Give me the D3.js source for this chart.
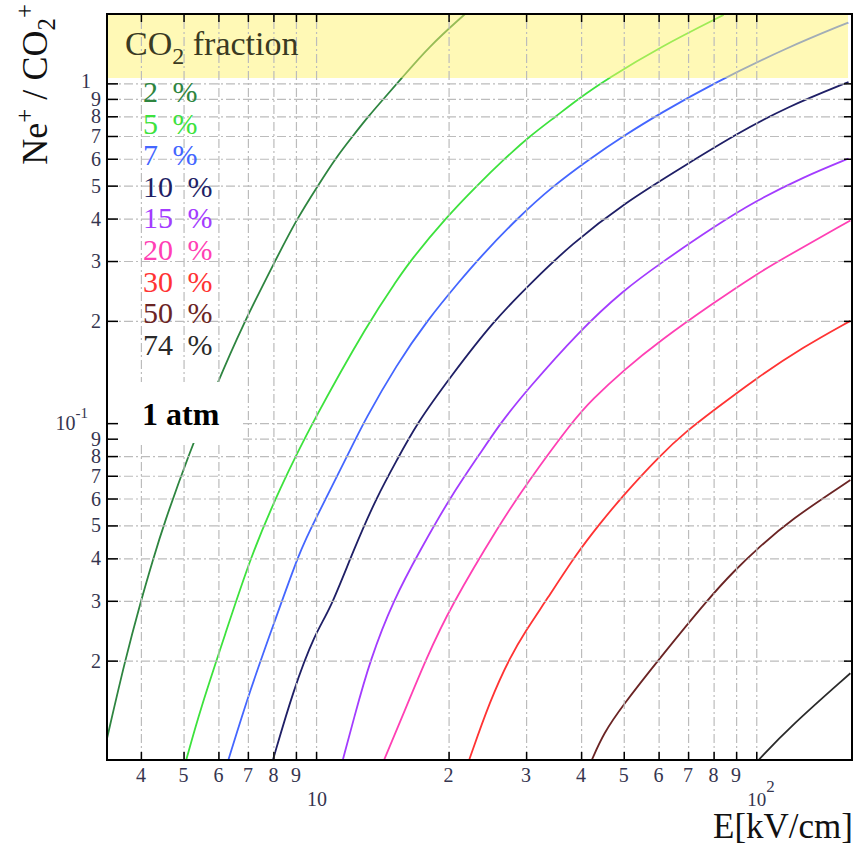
<!DOCTYPE html>
<html><head><meta charset="utf-8">
<script src="https://cdn.jsdelivr.net/npm/d3@7"></script>
<style>
body{margin:0;background:#fff;}
svg{display:block;}
text{font-family:"Liberation Serif","Times New Roman",serif;}
</style></head><body>
<svg id="chart" width="865" height="848"></svg>
<script>
// ---- data ----
const fractionLabels = ["2 %","5 %","7 %","10 %","15 %","20 %","30 %","50 %","74 %"];
const seriesColors = ["#2e8540","#3de23d","#4466ff","#1f1f66","#a33cff","#ff40b4","#ff3333","#6b2424","#2a2a2a"];

const field2  = [3.35, 3.68, 4.0, 4.27, 4.50, 5.12, 5.96, 6.82, 8.07, 9.05, 10.1, 11.05, 12.12, 13.15, 14.23, 15.5, 18.0, 21.8];
const ratio2  = [0.0118, 0.02, 0.03, 0.04, 0.05, 0.08, 0.131, 0.195, 0.3, 0.4, 0.5, 0.6, 0.7, 0.8, 0.9, 1.02, 1.28, 1.6];
const field5  = [5.07, 5.45, 6.21, 7.12, 8.28, 9.78, 13.21, 15.26, 16.35, 19.82, 23.2, 26.8, 30.6, 35.1, 39.4, 45.8, 60.5, 84.3];
const ratio5  = [0.0102, 0.0143, 0.0238, 0.0409, 0.0644, 0.1, 0.2, 0.263, 0.3, 0.405, 0.5, 0.6, 0.7, 0.8, 0.9, 1.03, 1.28, 1.59];
const field7  = [6.32, 7.08, 8.07, 9.2, 9.86, 11.95, 12.9, 15.26, 17.85, 21.25, 23.6, 28.6, 34.6, 41.9, 49.9, 60.5, 79.9, 117.6, 161.8];
const ratio7  = [0.0102, 0.0164, 0.0263, 0.0423, 0.0507, 0.0833, 0.102, 0.149, 0.2, 0.263, 0.308, 0.4, 0.5, 0.6, 0.7, 0.816, 1.0, 1.276, 1.51];
const field10 = [7.98, 8.88, 9.95, 10.76, 12.16, 13.74, 15.26, 16.94, 20.2, 25.3, 31.2, 37.8, 49.9, 69.6, 90.4, 117.4, 162];
const ratio10 = [0.0102, 0.0164, 0.0241, 0.0282, 0.0423, 0.0607, 0.0778, 0.0998, 0.1368, 0.2, 0.263, 0.334, 0.443, 0.578, 0.711, 0.852, 1.009];
const field15 = [11.5, 12.16, 13.26, 14.99, 17.24, 20.2, 23.6, 26.2, 30.1, 39.8, 49.9, 60.5, 80, 100.4, 128, 162];
const ratio15 = [0.0102, 0.01338, 0.0201, 0.0302, 0.0423, 0.0607, 0.0815, 0.0998, 0.125, 0.1877, 0.246, 0.295, 0.378, 0.453, 0.530, 0.601];
const field20 = [14.27, 15.52, 17.85, 20.2, 26.2, 30.0, 38.4, 42.3, 49.9, 60.5, 80, 100.4, 113.4, 163.6];
const ratio20 = [0.0102, 0.0132, 0.0205, 0.0288, 0.0507, 0.066, 0.102, 0.117, 0.143, 0.175, 0.226, 0.275, 0.302, 0.395];
const field30 = [22.27, 24.86, 27.6, 30.0, 33.4, 39.1, 44.2, 49.5, 60.5, 69.6, 80, 98.6, 128, 163.6];
const ratio30 = [0.0102, 0.0153, 0.0205, 0.0246, 0.0302, 0.0414, 0.0507, 0.0607, 0.0805, 0.095, 0.109, 0.1338, 0.1677, 0.2];
const field50 = [42.3, 45.0, 49.5, 60.3, 78.6, 89.6, 99.8, 119.5, 163.6];
const ratio50 = [0.0102, 0.01223, 0.01465, 0.0203, 0.0309, 0.037, 0.0423, 0.0519, 0.068];
const field74 = [101.2, 119.5, 163.6];
const ratio74 = [0.0102, 0.0128, 0.01836];

const seriesFields = [field2, field5, field7, field10, field15, field20, field30, field50, field74];
const seriesRatios = [ratio2, ratio5, ratio7, ratio10, ratio15, ratio20, ratio30, ratio50, ratio74];

const xTicks = [4,5,6,7,8,9,10,20,30,40,50,60,70,80,90,100];
const xTickLabels = ["4","5","6","7","8","9","10","2","3","4","5","6","7","8","9","10^2"];
const yTicks = [0.02,0.03,0.04,0.05,0.06,0.07,0.08,0.09,0.1,0.2,0.3,0.4,0.5,0.6,0.7,0.8,0.9,1];
const yTickLabels = ["2","3","4","5","6","7","8","9","10^-1","2","3","4","5","6","7","8","9","1"];

// ---- layout ----
const L = 107, R = 852, T = 14, B = 760;
const svg = d3.select("#chart");
const x = d3.scaleLog().domain([3.35, 165]).range([L, R]);
const y = d3.scaleLog().domain([0.0102, 1.6]).range([B, T]);
const labelColor = "#35354f";

svg.append("rect").attr("width", 865).attr("height", 848).attr("fill", "#fff");
svg.append("defs").append("clipPath").attr("id", "plotclip")
  .append("rect").attr("x", L).attr("y", T).attr("width", R - L).attr("height", B - T);

// curves
const line = d3.line().x(d => x(d[0])).y(d => y(d[1])).curve(d3.curveBasis);
const curves = svg.append("g").attr("clip-path", "url(#plotclip)");
seriesFields.forEach((f, i) => {
  const pts = f.map((e, j) => [e, seriesRatios[i][j]]);
  curves.append("path").datum(pts).attr("d", line)
    .attr("fill", "none").attr("stroke", seriesColors[i]).attr("stroke-width", 1.8);
});

// yellow legend band (over curves)
svg.append("rect").attr("x", L + 1).attr("y", T).attr("width", 848 - L - 1).attr("height", 78 - T)
  .attr("fill", "#fff36e").attr("opacity", 0.5);

// grid
const gridX = svg.append("g").attr("transform", `translate(0,${B})`)
  .call(d3.axisBottom(x).tickValues(xTicks).tickSize(-(B - T)).tickFormat(""));
const gridY = svg.append("g").attr("transform", `translate(${L},0)`)
  .call(d3.axisLeft(y).tickValues(yTicks).tickSize(-(R - L)).tickFormat(""));
[gridX, gridY].forEach(g => {
  g.select(".domain").remove();
  g.selectAll("line").attr("stroke", "#bcbcbc").attr("stroke-width", 1.2).attr("stroke-dasharray", "9,3,2,3");
});

// "1 atm" box
svg.append("rect").attr("x", L + 2).attr("y", 382).attr("width", 240 - L - 2).attr("height", 61).attr("fill", "#fff");
svg.append("text").attr("x", 142).attr("y", 425).attr("font-size", 32).attr("font-weight", "bold")
  .attr("fill", "#000").text("1 atm");

// legend
const leg = svg.append("text").attr("x", 125).attr("y", 55).attr("font-size", 34).attr("fill", "#3a3a22");
leg.append("tspan").text("CO");
leg.append("tspan").attr("font-size", 24).attr("dy", 9).text("2");
leg.append("tspan").attr("dy", -9).text(" fraction");
fractionLabels.forEach((t, i) => {
  svg.append("text").attr("x", 143).attr("y", 102 + i * 31.6).attr("font-size", 30)
    .attr("word-spacing", 7).attr("fill", seriesColors[i]).text(t);
});

// axes ticks and frame
function tickStyle(g) {
  g.select(".domain").remove();
  g.selectAll("line").attr("stroke", "#000").attr("stroke-width", 1.5);
}
svg.append("g").attr("transform", `translate(0,${B})`)
  .call(d3.axisBottom(x).tickValues(xTicks).tickSizeInner(-8).tickSizeOuter(0).tickFormat("")).call(tickStyle);
svg.append("g").attr("transform", `translate(0,${T})`)
  .call(d3.axisTop(x).tickValues(xTicks).tickSizeInner(-8).tickSizeOuter(0).tickFormat("")).call(tickStyle);
svg.append("g").attr("transform", `translate(${L},0)`)
  .call(d3.axisLeft(y).tickValues(yTicks).tickSizeInner(-11).tickSizeOuter(0).tickFormat("")).call(tickStyle);
svg.append("g").attr("transform", `translate(${R},0)`)
  .call(d3.axisRight(y).tickValues(yTicks).tickSizeInner(-8).tickSizeOuter(0).tickFormat("")).call(tickStyle);
svg.append("rect").attr("x", L).attr("y", T).attr("width", R - L).attr("height", B - T)
  .attr("fill", "none").attr("stroke", "#000").attr("stroke-width", 2);

// x tick labels
xTicks.forEach((v, i) => {
  const lab = xTickLabels[i];
  if (lab === "10") {
    svg.append("text").attr("x", x(v) + 1).attr("y", 806).attr("font-size", 20)
      .attr("text-anchor", "middle").attr("fill", labelColor).text("10");
  } else if (lab === "10^2") {
    const t = svg.append("text").attr("x", x(v) - 9).attr("y", 806).attr("font-size", 19).attr("fill", labelColor);
    t.append("tspan").text("10");
    t.append("tspan").attr("font-size", 17).attr("dy", -14).text("2");
  } else {
    svg.append("text").attr("x", x(v)).attr("y", 782).attr("font-size", 20)
      .attr("text-anchor", "middle").attr("fill", labelColor).text(lab);
  }
});
// y tick labels
yTicks.forEach((v, i) => {
  const lab = yTickLabels[i];
  if (lab === "10^-1") {
    const t = svg.append("text").attr("x", 88).attr("y", y(v) + 7).attr("font-size", 20)
      .attr("text-anchor", "end").attr("fill", labelColor);
    t.append("tspan").text("10");
    t.append("tspan").attr("font-size", 15).attr("dy", -12).text("-1");
  } else if (lab === "1") {
    svg.append("text").attr("x", 91).attr("y", y(v) + 5).attr("font-size", 20)
      .attr("text-anchor", "end").attr("fill", labelColor).text("1");
  } else {
    svg.append("text").attr("x", 101).attr("y", y(v) + 7).attr("font-size", 20)
      .attr("text-anchor", "end").attr("fill", labelColor).text(lab);
  }
});

// axis titles
const yt = svg.append("text").attr("transform", "translate(47,4) rotate(-90)")
  .attr("text-anchor", "end").attr("font-size", 36).attr("fill", "#111");
yt.append("tspan").text("Ne");
yt.append("tspan").attr("font-size", 25).attr("dy", -14).text("+");
yt.append("tspan").attr("dy", 14).text(" / CO");
yt.append("tspan").attr("font-size", 25).attr("dy", 8).text("2");
yt.append("tspan").attr("font-size", 25).attr("dy", -22).text("+");

svg.append("text").attr("x", 853).attr("y", 838).attr("text-anchor", "end")
  .attr("font-size", 35).attr("fill", "#111").text("E[kV/cm]");
</script></body></html>
